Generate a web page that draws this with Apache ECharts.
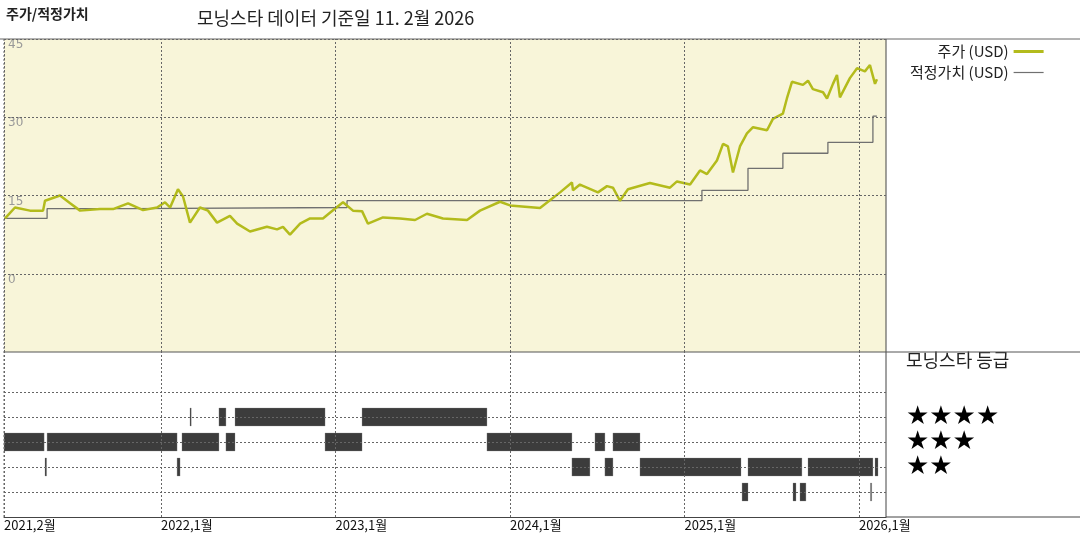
<!DOCTYPE html>
<html><head><meta charset="utf-8">
<script src="https://cdn.jsdelivr.net/npm/echarts@6/dist/echarts.min.js"></script>
<style>html,body{margin:0;padding:0;background:#fff}#c{width:1080px;height:540px}</style>
</head><body><div id="c"></div>
<script>
// decimal-year x, value
const priceData = [[2021.106,10.6],[2021.163,12.7],[2021.249,12.1],[2021.324,12.1],[2021.335,14.0],[2021.421,15.0],[2021.479,13.5],[2021.536,12.1],[2021.650,12.4],[2021.725,12.4],[2021.811,13.5],[2021.897,12.2],[2021.977,12.7],[2022.023,13.7],[2022.052,12.7],[2022.097,16.2],[2022.126,14.8],[2022.166,9.8],[2022.223,12.7],[2022.269,12.1],[2022.321,9.8],[2022.395,11.1],[2022.436,9.6],[2022.510,8.1],[2022.607,9.0],[2022.665,8.5],[2022.699,9.0],[2022.739,7.5],[2022.797,9.6],[2022.854,10.6],[2022.928,10.6],[2022.968,11.7],[2023.043,13.7],[2023.100,12.1],[2023.152,12.0],[2023.186,9.6],[2023.272,10.8],[2023.370,10.6],[2023.456,10.3],[2023.524,11.5],[2023.616,10.6],[2023.754,10.3],[2023.828,12.1],[2023.943,13.8],[2024.000,13.1],[2024.172,12.6],[2024.287,15.6],[2024.355,17.5],[2024.361,16.0],[2024.401,17.1],[2024.504,15.6],[2024.556,16.8],[2024.590,16.5],[2024.630,14.0],[2024.676,16.2],[2024.802,17.4],[2024.917,16.5],[2024.957,17.7],[2025.032,17.1],[2025.089,19.8],[2025.129,19.1],[2025.186,21.7],[2025.221,24.9],[2025.249,24.4],[2025.278,19.4],[2025.318,24.4],[2025.358,26.9],[2025.393,28.1],[2025.473,27.5],[2025.507,29.7],[2025.564,30.7],[2025.587,33.6],[2025.616,36.8],[2025.679,36.2],[2025.708,37.0],[2025.736,35.4],[2025.794,34.8],[2025.817,33.6],[2025.851,36.4],[2025.874,38.1],[2025.891,33.8],[2025.948,37.5],[2025.989,39.4],[2026.034,38.8],[2026.063,40.0],[2026.092,36.4],[2026.103,37.3]];
const fairValueData = [[2021.106,10.6],[2021.347,12.5],[2021.822,12.7],[2023.066,14.0],[2025.100,16.0],[2025.364,20.2],[2025.564,23.1],[2025.822,25.2],[2026.080,30.2],[2026.103,30.2]];
// [start, end, stars]
const ratingSpans = [
 [2021.100,2021.330,3],[2021.347,2022.092,3],[2022.120,2022.332,3],[2022.372,2022.424,3],[2022.940,2023.152,3],[2023.868,2024.355,3],[2024.487,2024.544,3],[2024.590,2024.745,3],
 [2022.166,2022.172,4],[2022.332,2022.372,4],[2022.424,2022.940,4],[2023.152,2023.868,4],
 [2021.335,2021.344,2],[2022.092,2022.109,2],[2024.355,2024.458,2],[2024.544,2024.590,2],[2024.745,2025.324,2],[2025.364,2025.673,2],[2025.708,2026.080,2],[2026.092,2026.109,2],
 [2025.330,2025.364,1],[2025.622,2025.639,1],[2025.662,2025.696,1],[2026.066,2026.072,1]
];
const yearTicks = [2021.1,2022,2023,2024,2025,2026];
const yearLabels = ['2021,2월','2022,1월','2023,1월','2024,1월','2025,1월','2026,1월'];
const priceTicks = [0,15,30,45];
const starLevels = [1,2,3,4,5];

const F = '"Noto Sans CJK KR", sans-serif';
const XMIN = 2021.1, XMAX = 2026.155;
const chart = echarts.init(document.getElementById('c'));
const dash = {type:[2,2], color:'#666', width:1};
chart.setOption({
  animation:false,
  textStyle:{fontFamily:F},
  grid:[
    {left:4, top:39, right:194, height:313, show:true, backgroundColor:'#F8F5D9', borderWidth:0},
    {left:4, top:352, right:194, height:165, show:false}
  ],
  legend:{orient:'vertical', left:905, top:39, align:'right', itemGap:6, itemWidth:30, itemHeight:10,
    textStyle:{fontFamily:F, fontSize:15, color:'#222'},
    data:[{name:'주가 (USD)', icon:'path://M0,0H30V3H0Z'},{name:'적정가치 (USD)', icon:'path://M0,0H30V1.2H0Z'}]},
  xAxis:[
    {type:'value', gridIndex:0, min:XMIN, max:XMAX, axisLine:{show:false}, axisTick:{show:false}, axisLabel:{show:false}, splitLine:{show:false}},
    {type:'value', gridIndex:1, min:XMIN, max:XMAX, axisLine:{show:true, lineStyle:{color:'#444'}}, axisTick:{show:false}, splitLine:{show:false},
     axisLabel:{customValues:yearTicks, align:'left', margin:2, fontSize:13, color:'#111', fontFamily:F,
       formatter:v=>{const i=yearTicks.findIndex(t=>Math.abs(t-v)<1e-6);return i>=0?yearLabels[i]:'';}}}
  ],
  yAxis:[
    {type:'value', gridIndex:0, min:-15, max:45, axisLine:{show:false}, axisTick:{show:false},
     splitLine:{show:false},
     axisLabel:{customValues:priceTicks, inside:true, verticalAlign:'top', margin:4, color:'#999', fontSize:12, fontFamily:'DejaVu Sans'}},
    {type:'value', gridIndex:1, min:0, max:6.6, position:'right', axisLine:{show:false}, axisTick:{show:false}, splitLine:{show:false},
     axisLabel:{customValues:starLevels, margin:20, align:'left', color:'#000', fontSize:26, fontFamily:'DejaVu Sans',
       formatter:v=>'★'.repeat(v)}}
  ],
  series:[
    {name:'gridTop', type:'line', xAxisIndex:0, yAxisIndex:0, data:[], silent:true,
     markLine:{symbol:'none', silent:true, label:{show:false}, lineStyle:dash,
       data:[...priceTicks.map(v=>({yAxis:v})), ...yearTicks.map(v=>({xAxis:v}))]}},
    {name:'gridBot', type:'line', xAxisIndex:1, yAxisIndex:1, data:[], silent:true,
     markLine:{symbol:'none', silent:true, label:{show:false}, lineStyle:dash,
       data:[...starLevels.map(v=>({yAxis:v})), ...yearTicks.map(v=>({xAxis:v}))]}},
    {name:'적정가치 (USD)', type:'line', xAxisIndex:0, yAxisIndex:0, data:fairValueData, step:'end', symbol:'none',
     lineStyle:{color:'#707070', width:1.3}, itemStyle:{color:'#707070'}},
    {name:'주가 (USD)', type:'line', xAxisIndex:0, yAxisIndex:0, data:priceData, symbol:'none',
     lineStyle:{color:'#B3BB1C', width:2.5}, itemStyle:{color:'#B3BB1C'}},
    {name:'rating', type:'custom', xAxisIndex:1, yAxisIndex:1, data:ratingSpans,
     encode:{x:[0,1], y:2},
     renderItem:(params, api)=>{
       const a = api.coord([api.value(0), api.value(2)]);
       const b = api.coord([api.value(1), api.value(2)]);
       const w = Math.max(1.2, b[0]-a[0]);
       return {type:'rect', shape:{x:a[0], y:a[1]-9, width:w, height:18},
         style:{fill:'#3c3c3c', stroke:'#888', lineWidth:0.3}};
     }}
  ],
  graphic:[
    {type:'text', left:6, top:7, style:{text:'주가/적정가치', font:'bold 14px '+F, fill:'#222'}},
    {type:'text', left:197, top:9, style:{text:'모닝스타 데이터 기준일 11. 2월 2026', font:'18px '+F, fill:'#222'}},
    {type:'text', left:906, top:351, style:{text:'모닝스타 등급', font:'18px '+F, fill:'#222'}},
    {type:'line', shape:{x1:0, y1:39, x2:1080, y2:39}, style:{stroke:'#666', lineWidth:1}},
    {type:'line', shape:{x1:886, y1:39, x2:886, y2:517}, style:{stroke:'#444', lineWidth:1}},
    {type:'line', shape:{x1:4, y1:352, x2:1080, y2:352}, style:{stroke:'#555', lineWidth:1}},
    {type:'line', shape:{x1:886, y1:517, x2:1080, y2:517}, style:{stroke:'#444', lineWidth:1}},
    {type:'line', shape:{x1:4, y1:39, x2:4, y2:517}, style:{stroke:'#666', lineWidth:1, lineDash:[2,2]}}
  ]
});
</script></body></html>
